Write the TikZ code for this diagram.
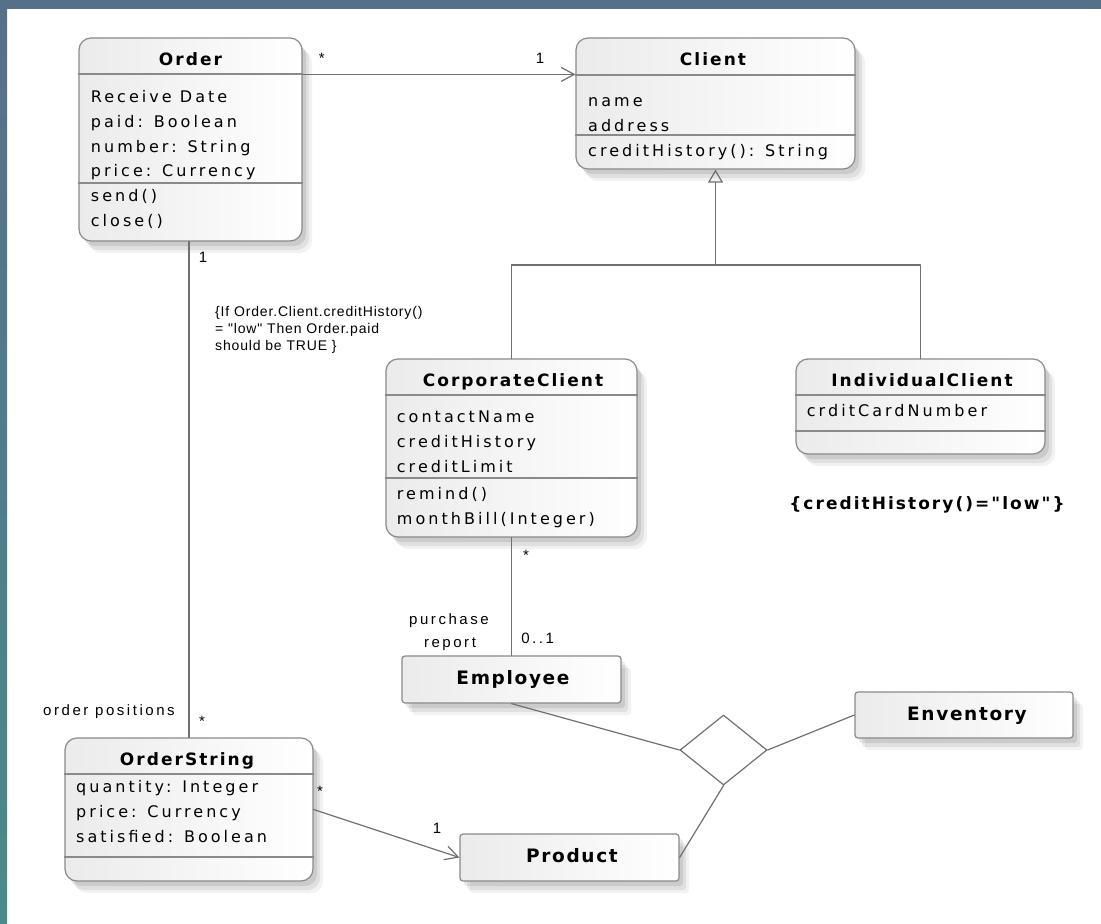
\documentclass[tikz,border=0pt]{standalone}
\usepackage{fontspec}
\setmainfont{DejaVu Sans}
\newfontfamily\umlfont[LetterSpace=19]{DejaVu Sans}
\newfontfamily\namefont[LetterSpace=12]{DejaVu Sans}
\newfontfamily\objfont[LetterSpace=9]{DejaVu Sans}
\newfontfamily\notefont[LetterSpace=6]{Liberation Sans}
\newfontfamily\rolefont[LetterSpace=17]{Liberation Sans}
\usetikzlibrary{arrows.meta,shapes.geometric,shadows,positioning}

\definecolor{edgecol}{HTML}{8A8A8A}
\definecolor{wirecol}{HTML}{707070}
\definecolor{fillcol}{HTML}{EBEBEB}
\definecolor{stripA}{HTML}{56708A}
\definecolor{stripB}{HTML}{4A8A8A}

\tikzset{
  classbox/.style={draw=edgecol,line width=1.2pt,rounded corners=12pt,
    left color=fillcol,right color=white,inner sep=0pt,
    drop shadow={shadow xshift=10pt,shadow yshift=-12pt,opacity=.05,fill=black},
    drop shadow={shadow xshift=7pt,shadow yshift=-9pt,opacity=.07,fill=black},
    drop shadow={shadow xshift=4pt,shadow yshift=-5pt,opacity=.09,fill=black}},
  objbox/.style={classbox,rounded corners=3pt},
  divider/.style={draw=edgecol,line width=1.2pt},
  wire/.style={draw=wirecol,line width=1.2pt},
  classname/.style={font=\namefont\bfseries\fontsize{17}{20}\selectfont,anchor=base,inner sep=0pt},
  objname/.style={classname,font=\objfont\bfseries\fontsize{18.5}{22}\selectfont},
  member/.style={font=\umlfont\fontsize{16}{19}\selectfont,anchor=base west,inner sep=0pt},
  role/.style={font=\rolefont\fontsize{15}{18}\selectfont,anchor=base,inner sep=0pt},
  note/.style={font=\notefont\fontsize{14}{17}\selectfont,anchor=base west,inner sep=0pt},
}

\begin{document}
\begin{tikzpicture}[x=1pt,y=-1pt,line cap=round,line join=round]

\def\pitch{24.8} %member line pitch

%background
\useasboundingbox (0,0) rectangle (1101,924);
\fill[white] (0,0) rectangle (1101,924);
\fill[stripA] (0,0) rectangle (1101,9);
\shade[top color=stripA,bottom color=stripB] (0,0) rectangle (7,924);

%Order
\node[classbox,minimum width=223pt,minimum height=203pt] (order) at (190.5,139.5) {};
\draw[divider] (order.west |- 0,74) -- (order.east |- 0,74);
\draw[divider] (order.west |- 0,183) -- (order.east |- 0,183);
\node[classname] (order-t) at (190.5,65) {Order};
\foreach \m [count=\i from 0] in {Receive Date,paid: Boolean,number: String,price: Currency}
  \node[member] (order-a\i) at (90.7,102.5+\pitch*\i) {\m};
\foreach \m [count=\i from 0] in {{send()},{close()}}
  \node[member] (order-o\i) at (90.7,201.7+\pitch*\i) {\m};

%Client
\node[classbox,minimum width=279pt,minimum height=131pt] (client) at (715.5,103.5) {};
\draw[divider] (client.west |- 0,75) -- (client.east |- 0,75);
\draw[divider] (client.west |- 0,135) -- (client.east |- 0,135);
\node[classname] (client-t) at (713,65) {Client};
\foreach \m [count=\i from 0] in {name,address}
  \node[member] (client-a\i) at (588,106.5+\pitch*\i) {\m};
\node[member] (client-o0) at (588,156.7) {creditHistory(): String};

%CorporateClient
\node[classbox,minimum width=251pt,minimum height=178pt] (corp) at (511.5,448) {};
\draw[divider] (corp.west |- 0,395) -- (corp.east |- 0,395);
\draw[divider] (corp.west |- 0,478) -- (corp.east |- 0,478);
\node[classname] (corp-t) at (513,386) {CorporateClient};
\foreach \m [count=\i from 0] in {contactName,creditHistory,creditLimit}
  \node[member] (corp-a\i) at (396.7,422.7+25*\i) {\m};
\foreach \m [count=\i from 0] in {{remind()},{monthBill(Integer)}}
  \node[member] (corp-o\i) at (396.7,499+25*\i) {\m};

%IndividualClient
\node[classbox,minimum width=249pt,minimum height=95pt] (indiv) at (920.5,406.5) {};
\draw[divider] (indiv.west |- 0,395) -- (indiv.east |- 0,395);
\draw[divider] (indiv.west |- 0,431) -- (indiv.east |- 0,431);
\node[classname] (indiv-t) at (922,386) {IndividualClient};
\node[member] (indiv-a0) at (806.7,416) {crditCardNumber};

%OrderString
\node[classbox,minimum width=248pt,minimum height=143pt] (ostring) at (189,809.5) {};
\draw[divider] (ostring.west |- 0,774) -- (ostring.east |- 0,774);
\draw[divider] (ostring.west |- 0,857) -- (ostring.east |- 0,857);
\node[classname] (ostring-t) at (187,765.7) {OrderString};
\foreach \m [count=\i from 0] in {quantity: Integer,price: Currency,satisfied: Boolean}
  \node[member] (ostring-a\i) at (76,792.7+25*\i) {\m};

%objects
\node[objbox,minimum width=219pt,minimum height=47pt] (emp) at (511.5,679.5) {};
\node[objname] (emp-t) at (513,684) {Employee};
\node[objbox,minimum width=218pt,minimum height=46pt] (inv) at (964,715) {};
\node[objname] (inv-t) at (967,720) {Enventory};
\node[objbox,minimum width=219pt,minimum height=47pt] (product) at (569.5,857.5) {};
\node[objname] (product-t) at (572,862) {Product};
\node[draw=wirecol,line width=1.2pt,fill=white,diamond,aspect=1.24,
  minimum width=87pt,minimum height=70pt,inner sep=0pt] (assoc) at (723.5,750) {};

%associations
\draw[wire,-{Straight Barb[length=13pt,width=14pt]}]
  ([yshift=-37pt]order.north east) -- ([yshift=-37pt]client.north west);
\draw[wire] (ostring.north |- order.south) -- (ostring.north);
\draw[wire] (corp.south) -- (emp.north);
\draw[wire,-{Straight Barb[length=13pt,width=14pt]}] (ostring.east) -- (product.west);
\draw[wire] (emp.south) -- (assoc.west);
\draw[wire] (inv.west) -- (assoc.east);
\draw[wire] (product.east) -- (assoc.south);

%generalization
\coordinate (fork) at (client.south |- 0,265);
\draw[wire,-{Triangle[open,length=13pt,width=15pt]}] (fork) -- (client.south);
\draw[wire] (corp.north) |- (fork) -| (indiv.north);

%multiplicities and roles
\node[role] (m1) at (321.7,63.5) {*};
\node[role] (m2) at (540,63.5) {1};
\node[role] (m3) at (203,262) {1};
\node[role] (m4) at (202,726.5) {*};
\node[role] (r1) at (109,715) {order positions};
\node[role] (m5) at (526,560) {*};
\node[role] (m6) at (537.7,643) {0..1};
\node[role] (r2) at (449,624.3) {purchase};
\node[role] (r3) at (450,647) {report};
\node[role] (m7) at (320,796.5) {*};
\node[role] (m8) at (437,833) {1};

%constraints
\node[note] (c1) at (215,316.7) {\{If Order.Client.creditHistory()};
\node[note] (c2) at (215,333.7) {= "low" Then Order.paid};
\node[note] (c3) at (215,350.7) {should be TRUE \}};
\node[classname] (c4) at (927,509) {\{creditHistory()="low"\}};

\end{tikzpicture}
\end{document}
